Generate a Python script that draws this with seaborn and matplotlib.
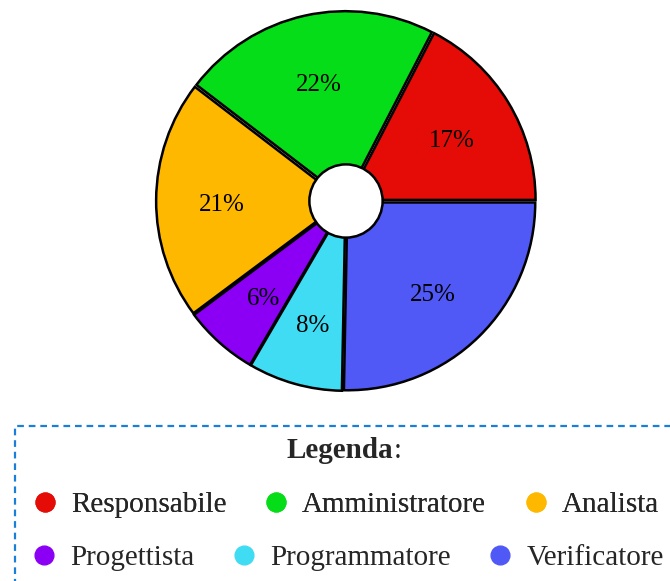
import matplotlib
matplotlib.use('Agg')
import matplotlib.pyplot as plt
import matplotlib.transforms as mtransforms
import seaborn as sns
from matplotlib.lines import Line2D
from matplotlib.patches import Rectangle, Circle

# Data
ROLES = ['Responsabile', 'Amministratore', 'Analista',
         'Progettista', 'Programmatore', 'Verificatore']
SHARES = [17.4, 22.2, 20.6, 6.4, 8.1, 25.3]
COLORS = ['#e50c07', '#05dd18', '#ffb800', '#8b00f5', '#40dcf4', '#5058f5']

sns.set_theme(style='white')
plt.rcParams['font.family'] = ['Liberation Serif', 'DejaVu Serif']

W, H = 670, 581
fig = plt.figure(figsize=(W / 100, H / 100), dpi=100)

# %% Pie
ax = fig.add_axes([146 / W, 1 - 401 / H, 400 / W, 400 / H])
wedges, texts, autotexts = ax.pie(
    SHARES, colors=COLORS, startangle=0, counterclock=True,
    explode=[0.011] * len(SHARES), autopct='%.0f%%', pctdistance=0.65,
    wedgeprops=dict(edgecolor='black', linewidth=1.8),
    textprops=dict(fontsize=18, color='black'))
for at in autotexts:
    at.set_transform(mtransforms.offset_copy(ax.transData, fig=fig, x=0, y=-5,
                                             units='dots'))
ax.add_patch(Circle((0, 0), 0.195, facecolor='white', edgecolor='black',
                    linewidth=1.8, zorder=5))
lim = 1.065
ax.set_xlim(-lim, lim)
ax.set_ylim(-lim, lim)
ax.set_aspect('equal')
ax.axis('off')

# %% Legend box
fig.patches.append(Rectangle((15 / W, -0.1), 1.0, 0.1 + (H - 426) / H,
                             transform=fig.transFigure, fill=False,
                             edgecolor='#1a7fd8', linestyle=(0, (3, 2.2)),
                             linewidth=1.6, clip_on=False))
t = fig.text(340 / W, 1 - 451 / H, 'Legenda', fontsize=21, fontweight='bold',
             ha='center', va='center')
bb = t.get_window_extent(renderer=fig.canvas.get_renderer())
fig.text(bb.x1 / W, 1 - 451 / H, ':', fontsize=21, ha='left', va='center')


def make_handles(names, cols):
    return [Line2D([], [], marker='o', linestyle='', markersize=13.5,
                   markerfacecolor=c, markeredgecolor=c, label=n)
            for n, c in zip(names, cols)]


legend_kw = dict(ncol=3, loc='center', frameon=False, fontsize=21,
                 handletextpad=0.5, columnspacing=1.3, handlelength=0.8)
leg1 = fig.legend(handles=make_handles(ROLES[:3], COLORS[:3]),
                  bbox_to_anchor=(346 / W, 1 - 505 / H), **legend_kw)
fig.add_artist(leg1)
fig.legend(handles=make_handles(ROLES[3:], COLORS[3:]),
           bbox_to_anchor=(348 / W, 1 - 558 / H), **legend_kw)

plt.savefig('out.png', dpi=100)
